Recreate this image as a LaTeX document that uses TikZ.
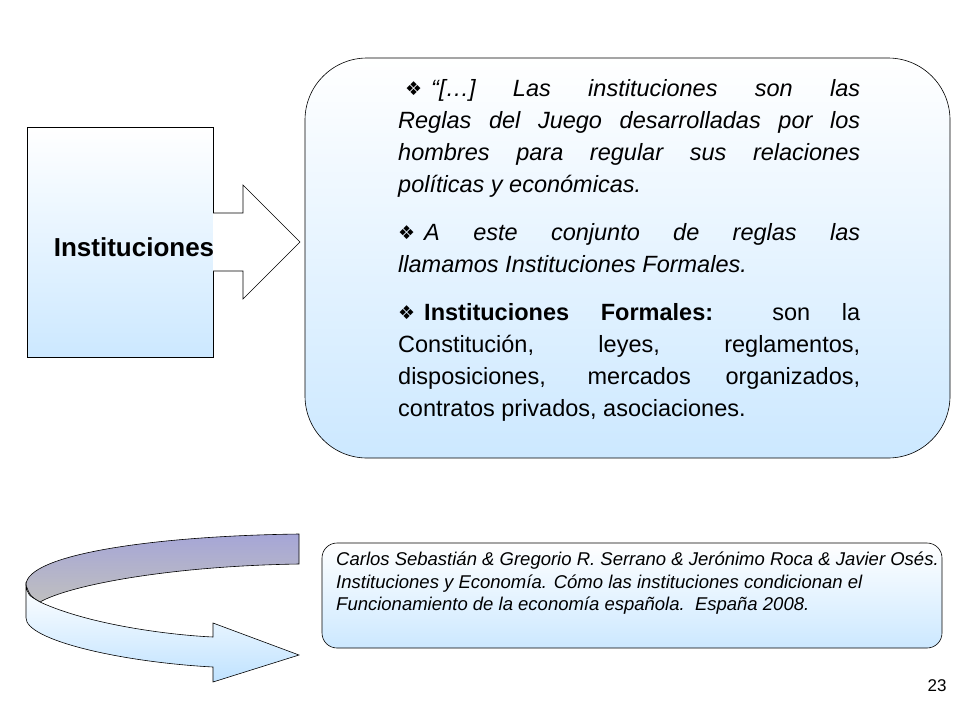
\documentclass[tikz,border=0pt]{standalone}
\usepackage{fontspec}
\setmainfont{Liberation Sans}
\newfontfamily\dejavu{DejaVu Sans}
\newcommand{\bul}{{\dejavu\fontsize{19}{19}\selectfont\raisebox{1pt}{❖}}}
\begin{document}
\begin{tikzpicture}[x=1pt,y=-1pt,
  boxline/.style={draw=black,line width=0.6pt},
  bluefill/.style={top color=white,bottom color=blue!45!cyan!20!white}]
\useasboundingbox (0,0) rectangle (960,720);
% left box
\path[boxline,bluefill] (27,127) rectangle (213,357);
% arrow
\path[boxline,fill=white] (213,213) -- (243,213) -- (243,185) -- (300,242) -- (243,299) -- (243,271) -- (213,271);
\node[font=\bfseries\fontsize{26}{30}\selectfont] (inst) at (134,247) {Instituciones};
% big rounded box
\path[boxline,bluefill,rounded corners=62pt] (305,58) rectangle (950,458);
\node[anchor=north west,inner sep=0pt,text width=462pt,align=justify,
  font=\fontsize{23.5}{32}\selectfont] (txt) at (398,79) {%
\hyphenpenalty=10000\exhyphenpenalty=10000\emergencystretch=40pt\hbadness=10000
\hspace*{7pt}\bul\hspace{9pt}\textit{“[…] Las instituciones son las\linebreak Reglas del Juego desarrolladas por los\linebreak hombres para regular sus relaciones\linebreak políticas y económicas.}\par\vspace{16pt}
\bul\hspace{9pt}\textit{A este conjunto de reglas las\linebreak llamamos Instituciones Formales.}\par\vspace{16pt}
\bul\hspace{9pt}\textbf{Instituciones Formales:} son la\linebreak Constitución, leyes, reglamentos,\linebreak disposiciones, mercados organizados,\linebreak contratos privados, asociaciones.\par};
% bottom box
\path[boxline,bluefill,rounded corners=15pt] (322,543) rectangle (942,648);
\node[anchor=north west,inner sep=0pt,align=left,
  font=\itshape\fontsize{18.5}{22.5}\selectfont] (ref) at (336,552) {Carlos Sebastián \& Gregorio R. Serrano \& Jerónimo Roca \& Javier Osés.\\
Instituciones y Economía. Cómo las instituciones condicionan el\\
Funcionamiento de la economía española.\ \ España 2008.};
% curved arrow
\path[boxline,top color=black!45!blue!35!white,bottom color=black!25]
 (26,585) .. controls (26,555) and (150,536) .. (299,534) -- (299,564)
 .. controls (170,566) and (70,585) .. (40,602) .. controls (30,596) .. (26,585) -- cycle;
\path[boxline,top color=white,bottom color=blue!45!cyan!25!white]
 (26,585) .. controls (28,595) .. (40,602) .. controls (90,625) and (170,635) .. (213,637)
 -- (213,623) -- (299,655) -- (213,682) -- (213,667)
 .. controls (120,662) and (26,640) .. (26,618) -- cycle;
\node[font=\fontsize{17}{19}\selectfont] (pg) at (937,686) {23};
\end{tikzpicture}
\end{document}
